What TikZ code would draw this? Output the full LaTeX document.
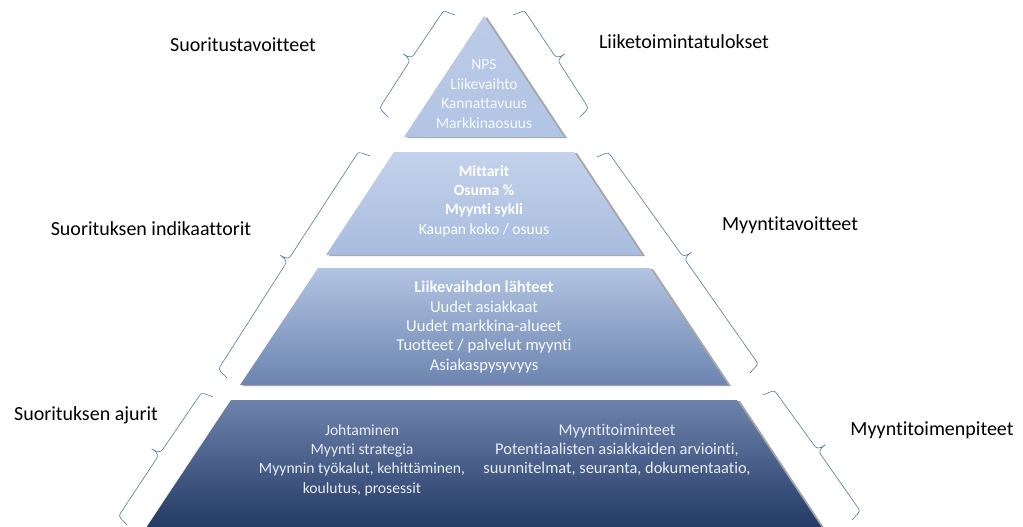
\documentclass[tikz,border=0pt]{standalone}
\usepackage{fontspec}
\setmainfont{Carlito}[Ligatures=CommonOff]
\usetikzlibrary{positioning, shadows, decorations}
\definecolor{bracecol}{HTML}{56789A}
\definecolor{lvA}{HTML}{BCCBE7}
\definecolor{lvB}{HTML}{B2C4E4}
\definecolor{lvC}{HTML}{C4D2EB}
\definecolor{lvD}{HTML}{A8BCDF}
\definecolor{lvE}{HTML}{B2C4E3}
\definecolor{lvF}{HTML}{6C84AF}
\definecolor{lvG}{HTML}{6E83AC}
\definecolor{lvH}{HTML}{1C335E}

\pgfdeclaredecoration{sidebrace}{final}{
  \state{final}{
    \pgfpathmoveto{\pgfpointorigin}
    \pgfpathlineto{\pgfpoint{2pt}{9pt}}
    \pgfpathcurveto{\pgfpoint{2.8pt}{11.5pt}}{\pgfpoint{4pt}{12pt}}{\pgfpoint{6pt}{12pt}}
    \pgfpathlineto{\pgfpoint{\pgfdecoratedpathlength/2-6pt}{12.5pt}}
    \pgfpathcurveto{\pgfpoint{\pgfdecoratedpathlength/2-2pt}{12.5pt}}{\pgfpoint{\pgfdecoratedpathlength/2}{14pt}}{\pgfpoint{\pgfdecoratedpathlength/2}{22pt}}
    \pgfpathcurveto{\pgfpoint{\pgfdecoratedpathlength/2}{14pt}}{\pgfpoint{\pgfdecoratedpathlength/2+2pt}{12.5pt}}{\pgfpoint{\pgfdecoratedpathlength/2+6pt}{12.5pt}}
    \pgfpathlineto{\pgfpoint{\pgfdecoratedpathlength-6pt}{12pt}}
    \pgfpathcurveto{\pgfpoint{\pgfdecoratedpathlength-4pt}{12pt}}{\pgfpoint{\pgfdecoratedpathlength-2.8pt}{11.5pt}}{\pgfpoint{\pgfdecoratedpathlength-2pt}{9pt}}
    \pgfpathlineto{\pgfpoint{\pgfdecoratedpathlength}{0pt}}
  }
}

\begin{document}
\begin{tikzpicture}[
        x=1pt, y=-1pt,
        layer/.style={drop shadow={shadow xshift=3pt, shadow yshift=-1pt, fill=black, opacity=.35}},
        txt/.style={align=center, font=\fontsize{15.6}{19.4}\selectfont, text=white},
        lbl/.style={font=\fontsize{20}{24}\selectfont, text=black},
        bracket/.style={draw=bracecol, line width=0.6pt, decorate, decoration=sidebrace}
    ]
        \useasboundingbox (0,0) rectangle (1023,527);
        \clip (0,0) rectangle (1023,527);

        \path[layer, top color=lvA, bottom color=lvB] (484,16) -- (564,137) -- (404,137) -- cycle;
        \path[layer, top color=lvC, bottom color=lvD] (394,152) -- (574,152) -- (642,255) -- (326,255) -- cycle;
        \path[layer, top color=lvE, bottom color=lvF] (318,268) -- (650,268) -- (728,385) -- (240,385) -- cycle;
        \path[layer, top color=lvG, bottom color=lvH] (231,400) -- (737,400) -- (830,540) -- (138,540) -- cycle;

        \node[txt, text=white!88!lvA] (tulos) at (484,94) {NPS\\Liikevaihto\\Kannattavuus\\Markkinaosuus};
        \node[txt] (mitta) at (484,201) {\textbf{Mittarit}\\\textbf{Osuma \%}\\\textbf{Myynti sykli}\\Kaupan koko / osuus};
        \node[txt, text=white!92!lvE, font=\fontsize{16.6}{19.4}\selectfont] (lahde) at (484,327) {\textbf{Liikevaihdon lähteet}\\Uudet asiakkaat\\Uudet markkina-alueet\\Tuotteet / palvelut myynti\\Asiakaspysyvyys};
        \node[txt, text=white!85!lvG] (johto) at (362,460) {Johtaminen\\Myynti strategia\\Myynnin työkalut, kehittäminen,\\koulutus, prosessit};
        \node[txt, text=white!85!lvG, font=\fontsize{16.4}{19.4}\selectfont] (toimi) at (617,450) {Myyntitoiminteet\\Potentiaalisten asiakkaiden arviointi,\\suunnitelmat, seuranta, dokumentaatio,};

        \coordinate (l1a) at (388,117);
        \coordinate (l1b) at (455,15);
        \coordinate (l2a) at (227,378);
        \coordinate (l2b) at (370,156);
        \coordinate (l3a) at (127,525);
        \coordinate (l3b) at (213,397);
        \coordinate (r1a) at (513,15);
        \coordinate (r1b) at (580,117);
        \coordinate (r2a) at (597,157);
        \coordinate (r2b) at (750,373);
        \coordinate (r3a) at (763,395);
        \coordinate (r3b) at (852,520);

        \draw[bracket] (l1a) -- (l1b);
        \draw[bracket] (l2a) -- (l2b);
        \draw[bracket] (l3a) -- (l3b);
        \draw[bracket] (r1a) -- (r1b);
        \draw[bracket] (r2a) -- (r2b);
        \draw[bracket] (r3a) -- (r3b);

        \node[lbl] (tavoite) at (243,45) {Suoritustavoitteet};
        \node[lbl] (indik) at (151,229) {Suorituksen indikaattorit};
        \node[lbl] (ajurit) at (86,415) {Suorituksen ajurit};
        \node[lbl] (liike) at (684,42) {Liiketoimintatulokset};
        \node[lbl] (myyta) at (790,225) {Myyntitavoitteet};
        \node[lbl] (myyto) at (932,430) {Myyntitoimenpiteet};
    \end{tikzpicture}
\end{document}
